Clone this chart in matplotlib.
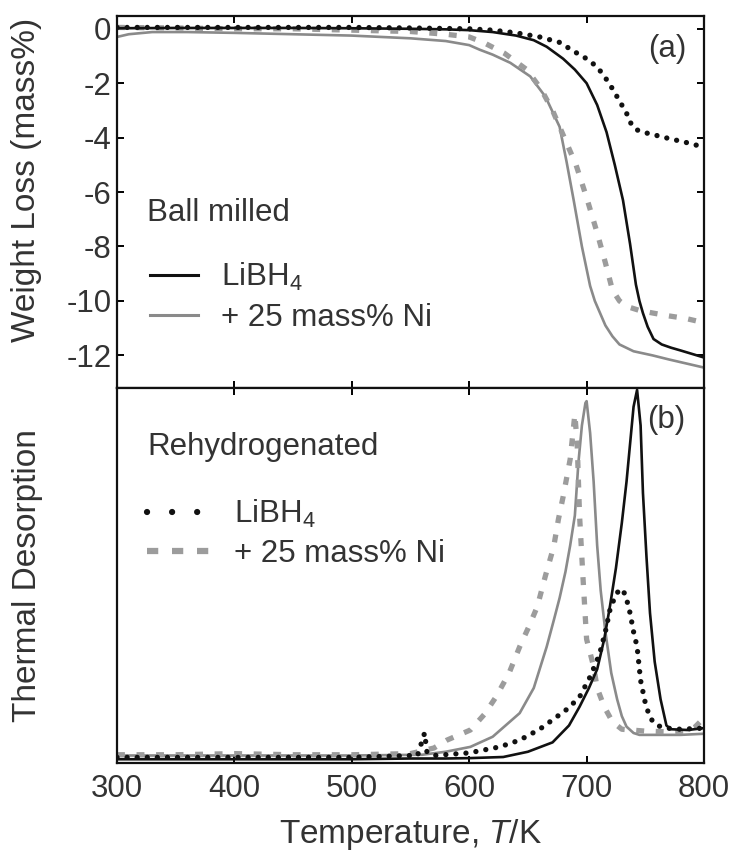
import matplotlib
matplotlib.use("Agg")
import matplotlib.pyplot as plt
from matplotlib.lines import Line2D

plt.rcParams["font.family"] = ["Liberation Sans", "DejaVu Sans"]
plt.rcParams["mathtext.fontset"] = "custom"
plt.rcParams["mathtext.rm"] = "Liberation Sans"
plt.rcParams["mathtext.it"] = "Liberation Sans:italic"
plt.rcParams["axes.unicode_minus"] = False

# (a) weight loss, mass%
t_bm = [300, 350, 400, 450, 500, 550, 580, 600, 620, 640, 655, 666, 680, 690, 700, 709,
        717, 724, 731, 737, 742, 745, 748, 752, 757, 764, 772, 780, 790, 800]
w_bm = [0.02, 0.03, 0.03, 0.03, 0.02, 0.0, -0.02, -0.05, -0.12, -0.25, -0.42, -0.66, -1.1,
        -1.5, -2.0, -2.8, -3.8, -5.0, -6.3, -7.9, -9.4, -10.0, -10.45, -10.95, -11.4, -11.6,
        -11.72, -11.82, -11.95, -12.08]

t_rh = [300, 350, 400, 450, 500, 550, 600, 620, 640, 660, 677, 690, 700, 709, 716, 722, 728,
        734, 738, 742, 748, 756, 765, 775, 785, 800]
w_rh = [0.05, 0.05, 0.05, 0.05, 0.05, 0.03, 0.0, -0.05, -0.15, -0.3, -0.5, -0.85, -1.1, -1.4,
        -1.8, -2.2, -2.65, -3.1, -3.5, -3.7, -3.8, -3.88, -3.98, -4.08, -4.18, -4.35]

t_bm_ni = [300, 310, 330, 360, 400, 450, 500, 550, 580, 600, 609, 620, 635, 652, 665, 677,
           683, 689, 696, 703, 707, 711, 716, 722, 728, 740, 756, 770, 785, 800]
w_bm_ni = [-0.3, -0.2, -0.12, -0.12, -0.15, -0.2, -0.25, -0.35, -0.45, -0.6, -0.77, -0.95,
           -1.25, -1.75, -2.5, -3.6, -4.9, -6.3, -8.0, -9.45, -10.0, -10.4, -10.9, -11.3,
           -11.6, -11.85, -12.0, -12.15, -12.3, -12.45]

t_rh_ni = [300, 350, 400, 450, 500, 550, 580, 600, 612, 630, 649, 661, 671, 681, 691, 700,
           709, 716, 722, 728, 734, 745, 757, 770, 785, 800]
w_rh_ni = [0.05, 0.03, 0.0, 0.0, -0.05, -0.1, -0.2, -0.3, -0.5, -0.9, -1.5, -2.2, -3.0, -4.0,
           -5.0, -6.2, -7.5, -8.6, -9.6, -10.0, -10.2, -10.35, -10.45, -10.55, -10.65, -10.8]

# (b) thermal desorption, arbitrary units
td_t_bm = [300, 400, 500, 550, 580, 600, 629, 650, 671, 685, 694, 702, 709, 715, 720, 725,
           730, 734, 737, 740, 743, 746, 748, 751, 754, 758, 763, 768, 772, 786, 800]
td_bm = [0.01, 0.01, 0.01, 0.012, 0.012, 0.013, 0.016, 0.03, 0.055, 0.1, 0.15, 0.2, 0.25,
         0.33, 0.42, 0.52, 0.64, 0.75, 0.85, 0.95, 0.995, 0.9, 0.72, 0.55, 0.4, 0.27, 0.17,
         0.1, 0.09, 0.088, 0.093]

td_t_rh = [300, 400, 500, 550, 556, 560, 562, 564, 570, 600, 626, 643, 660, 671, 684, 694,
           703, 711, 716, 720, 725, 729, 733, 737, 740, 743, 746, 750, 754, 760, 768, 780, 800]
td_rh = [0.015, 0.015, 0.015, 0.02, 0.02, 0.06, 0.08, 0.03, 0.02, 0.027, 0.043, 0.061, 0.09,
         0.115, 0.145, 0.176, 0.23, 0.29, 0.35, 0.41, 0.45, 0.465, 0.45, 0.4, 0.35, 0.31,
         0.22, 0.16, 0.12, 0.1, 0.093, 0.09, 0.093]

td_t_bm_ni = [300, 400, 500, 560, 580, 601, 620, 643, 655, 666, 672, 677, 682, 686, 690, 693,
              696, 699, 700, 703, 706, 709, 712, 716, 721, 726, 730, 734, 740, 745, 760, 780, 800]
td_bm_ni = [0.02, 0.02, 0.02, 0.022, 0.03, 0.043, 0.07, 0.133, 0.2, 0.31, 0.38, 0.44, 0.51,
            0.58, 0.66, 0.8, 0.9, 0.96, 0.965, 0.88, 0.75, 0.58, 0.46, 0.35, 0.24, 0.17,
            0.125, 0.097, 0.08, 0.075, 0.075, 0.075, 0.078]

td_t_rh_ni = [300, 350, 400, 450, 500, 550, 570, 581, 601, 613, 623, 634, 643, 651, 658, 665,
              672, 676, 680, 686, 690, 692, 694, 697, 700, 706, 709, 715, 722, 730, 750, 770,
              785, 792, 800]
td_rh_ni = [0.022, 0.022, 0.025, 0.022, 0.022, 0.025, 0.04, 0.061, 0.088, 0.13, 0.177, 0.24,
            0.31, 0.365, 0.417, 0.5, 0.577, 0.65, 0.71, 0.81, 0.93, 0.85, 0.66, 0.49, 0.33,
            0.257, 0.2, 0.15, 0.11, 0.09, 0.085, 0.083, 0.085, 0.095, 0.12]

black = "#111111"
gray = "#8a8a8a"
lgray = "#9c9c9c"
txt = "#333333"
fs = 22.5

fig = plt.figure(figsize=(7.34, 8.59), dpi=100)
ax1 = fig.add_axes([117 / 734, 1 - 388 / 859, 587 / 734, 372 / 859])
ax2 = fig.add_axes([117 / 734, 1 - 763 / 859, 587 / 734, 375 / 859], sharex=ax1)

dot_kw = dict(color=black, lw=3.8, dashes=(0.01, 1.9), dash_capstyle="round")
dash_kw = dict(color=lgray, lw=3.8, dashes=(1.5, 2.2))

# (a)
ax1.plot(t_bm_ni, w_bm_ni, color=gray, lw=1.9)
ax1.plot(t_rh_ni, w_rh_ni, **dash_kw)
ax1.plot(t_bm, w_bm, color=black, lw=1.9)
ax1.plot(t_rh, w_rh, **dot_kw)

ax1.set_xlim(300, 800)
ax1.set_ylim(-13.2, 0.47)
ax1.set_yticks([0, -2, -4, -6, -8, -10, -12])
ax1.set_xticks([300, 400, 500, 600, 700, 800])
ax1.tick_params(direction="in", top=True, right=True, labelbottom=False,
                length=5, width=1.4, labelsize=fs, pad=4)
ax1.set_ylabel("Weight Loss (mass%)", fontsize=24)
ax1.yaxis.set_label_coords(-0.128, 0.56)
ax1.text(0.937, 0.911, "(a)", transform=ax1.transAxes, fontsize=fs,
         ha="center", va="center", color=txt)
ax1.text(0.051, 0.47, "Ball milled", transform=ax1.transAxes, fontsize=fs,
         ha="left", va="center", color=txt)
h1 = [Line2D([], [], color=black, lw=2.2), Line2D([], [], color=gray, lw=2.2)]
ax1.legend(h1, ["LiBH$_4$", "+ 25 mass% Ni"], loc="center left",
           bbox_to_anchor=(0.056, 0.245), frameon=False, fontsize=fs,
           handlelength=1.55, handletextpad=0.72, labelspacing=0.34,
           borderpad=0, borderaxespad=0, labelcolor=txt)

# (b)
ax2.plot(td_t_bm_ni, td_bm_ni, color=gray, lw=1.9)
ax2.plot(td_t_rh_ni, td_rh_ni, **dash_kw)
ax2.plot(td_t_bm, td_bm, color=black, lw=1.9)
ax2.plot(td_t_rh, td_rh, **dot_kw)

ax2.set_ylim(0, 1)
ax2.set_yticks([])
ax2.tick_params(axis="x", direction="in", top=True, length=5, width=1.4,
                labelsize=fs, pad=8)
ax2.set_ylabel("Thermal Desorption", fontsize=24)
ax2.yaxis.set_label_coords(-0.126, 0.5)
ax2.set_xlabel("Temperature, $\\mathit{T}$/K", fontsize=24, labelpad=9)
ax2.text(0.935, 0.915, "(b)", transform=ax2.transAxes, fontsize=fs,
         ha="center", va="center", color=txt)
ax2.text(0.051, 0.843, "Rehydrogenated", transform=ax2.transAxes, fontsize=fs,
         ha="left", va="center", color=txt)
h2 = [Line2D([], [], color=black, lw=4.5, dashes=(0.01, 4.0), dash_capstyle="round"),
      Line2D([], [], color=lgray, lw=4.5, dashes=(1.8, 2.2))]
ax2.legend(h2, ["LiBH$_4$", "+ 25 mass% Ni"], loc="center left",
           bbox_to_anchor=(0.051, 0.613), frameon=False, fontsize=fs,
           handlelength=2.05, handletextpad=0.75, labelspacing=0.28,
           borderpad=0, borderaxespad=0, labelcolor=txt)

for ax in (ax1, ax2):
    for s in ax.spines.values():
        s.set_linewidth(1.6)
        s.set_color(black)
    for lbl in ax.get_xticklabels() + ax.get_yticklabels():
        lbl.set_color(txt)
    ax.yaxis.label.set_color(txt)
    ax.xaxis.label.set_color(txt)

fig.savefig("out.png", dpi=100)
